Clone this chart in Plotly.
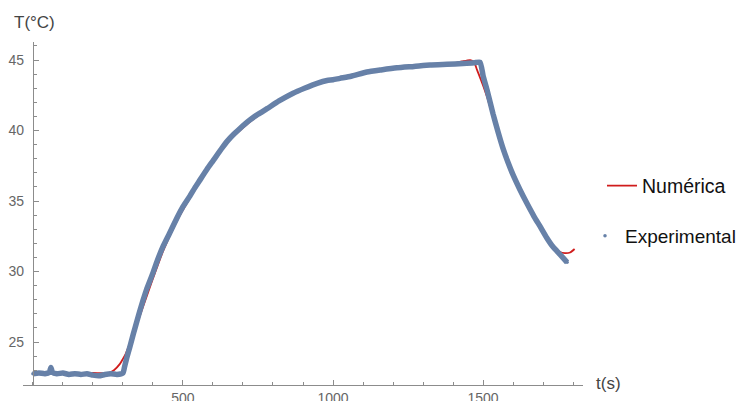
import plotly.graph_objects as go

exp_t = [0, 20, 40, 55, 60, 65, 80, 100, 120, 140, 160, 180, 200, 220, 240, 260, 280, 300,
         305, 313, 323, 335, 347, 357, 367, 380, 400, 415, 433, 455, 480, 500, 523, 540, 557,
         580, 600, 630, 650, 670, 690, 720, 750, 780, 820, 867, 905, 947, 980, 1000, 1023,
         1060, 1113, 1160, 1213, 1270, 1323, 1380, 1433, 1470, 1490, 1500, 1513, 1533, 1550,
         1567, 1583, 1600, 1623, 1647, 1670, 1690, 1712, 1733, 1757, 1780]
exp_T = [22.75, 22.8, 22.75, 22.85, 23.2, 22.85, 22.75, 22.8, 22.7, 22.75, 22.7, 22.75, 22.65,
         22.6, 22.7, 22.75, 22.7, 22.8, 23.2, 23.9, 24.65, 25.6, 26.5, 27.25, 27.95, 28.8,
         29.9, 30.8, 31.75, 32.7, 33.8, 34.6, 35.35, 35.95, 36.5, 37.25, 37.85, 38.75, 39.3,
         39.75, 40.15, 40.7, 41.15, 41.55, 42.1, 42.65, 43.0, 43.35, 43.55, 43.6, 43.7, 43.85,
         44.15, 44.3, 44.45, 44.55, 44.65, 44.7, 44.75, 44.8, 44.85, 43.9, 42.9, 41.2, 39.9,
         38.7, 37.75, 36.85, 35.8, 34.8, 33.9, 33.2, 32.4, 31.75, 31.2, 30.65]

# Numerical solution
num_t = [0, 100, 200, 250, 270, 290, 300, 310, 323, 347, 367, 400, 433, 480, 523, 557, 600,
         650, 700, 750, 800, 867, 947, 1000, 1113, 1213, 1323, 1400, 1430, 1457, 1470, 1480,
         1500, 1513, 1533, 1567, 1600, 1647, 1690, 1733, 1755, 1773, 1790, 1805]
num_T = [22.8, 22.8, 22.8, 22.8, 23.0, 23.45, 23.8, 24.2, 24.9, 26.3, 27.5, 29.5, 31.4, 33.6,
         35.2, 36.4, 37.8, 39.2, 40.2, 41.05, 41.8, 42.6, 43.3, 43.6, 44.1, 44.4, 44.6, 44.75,
         44.9, 45.0, 44.85, 44.3, 43.2, 42.4, 41.0, 38.8, 36.9, 34.9, 33.2, 31.8, 31.4, 31.3,
         31.35, 31.6]

x_ticks = [500, 1000, 1500]
y_ticks = [25, 30, 35, 40, 45]

BLUE = "#6781a8"
RED = "#d01c1c"
AXIS = "#8c8c8c"
TICKFONT = dict(family="Liberation Sans, Arial, sans-serif", size=14, color="#666666")

W, H = 739, 393  # page body adds an 8px offset

fig = go.Figure()
fig.add_trace(go.Scatter(x=num_t, y=num_T, mode="lines", name="Numérica",
                         line=dict(color=RED, width=1.8, shape="spline", smoothing=0.6),
                         legend="legend"))
fig.add_trace(go.Scatter(x=exp_t, y=exp_T, mode="lines", name="Experimental",
                         line=dict(color=BLUE, width=5.5, shape="spline", smoothing=0.5),
                         showlegend=False))
fig.add_trace(go.Scatter(x=exp_t, y=exp_T, mode="markers", name="Experimental",
                         marker=dict(color=BLUE, size=3.5), legend="legend2"))

fig.update_layout(
    width=W, height=H,
    margin=dict(l=15, r=164, t=34, b=16, autoexpand=False),
    plot_bgcolor="white", paper_bgcolor="white",
    font=dict(family="Liberation Sans, Arial, sans-serif"),
    xaxis=dict(range=[-33, 1833], domain=[0, 1], showgrid=False, zeroline=False,
               automargin=False,
               showline=True, linecolor=AXIS, linewidth=1.2,
               tickvals=x_ticks, ticks="inside", ticklen=5, tickcolor=AXIS, tickwidth=1,
               tickfont=TICKFONT, ticklabelstandoff=0,
               minor=dict(dtick=100, tick0=0, ticks="inside", ticklen=3, tickcolor=AXIS,
                          showgrid=False)),
    yaxis=dict(range=[21.95, 46.28], showgrid=False, zeroline=False, automargin=False,
               anchor="free", position=33 / 1866,
               showline=True, linecolor=AXIS, linewidth=1.2,
               tickvals=y_ticks, ticks="inside", ticklen=5, tickcolor=AXIS, tickwidth=1,
               tickfont=TICKFONT, ticklabelstandoff=6,
               minor=dict(dtick=1, tick0=0, ticks="inside", ticklen=3, tickcolor=AXIS,
                          showgrid=False)),
    legend=dict(xref="container", yref="container", x=594 / W, y=1 - 178 / H,
                xanchor="left", yanchor="middle", bgcolor="rgba(0,0,0,0)",
                font=dict(size=19.5, color="#111111"), itemwidth=30),
    legend2=dict(xref="container", yref="container", x=577 / W, y=1 - 228 / H,
                 xanchor="left", yanchor="middle", bgcolor="rgba(0,0,0,0)",
                 font=dict(size=19, color="#111111"), itemwidth=30),
    annotations=[
        dict(text="T(°C)", xref="paper", yref="paper", x=(12 - 23) / 560,
             y=(385 - 23) / 343, xanchor="left", yanchor="middle", showarrow=False,
             font=dict(size=17, color="#444444")),
        dict(text="t(s)", xref="paper", yref="paper", x=(594 - 23) / 560,
             y=(385 - 383) / 343, xanchor="left", yanchor="middle", showarrow=False,
             font=dict(size=17, color="#444444")),
    ],
)

fig.write_html("out.html")
